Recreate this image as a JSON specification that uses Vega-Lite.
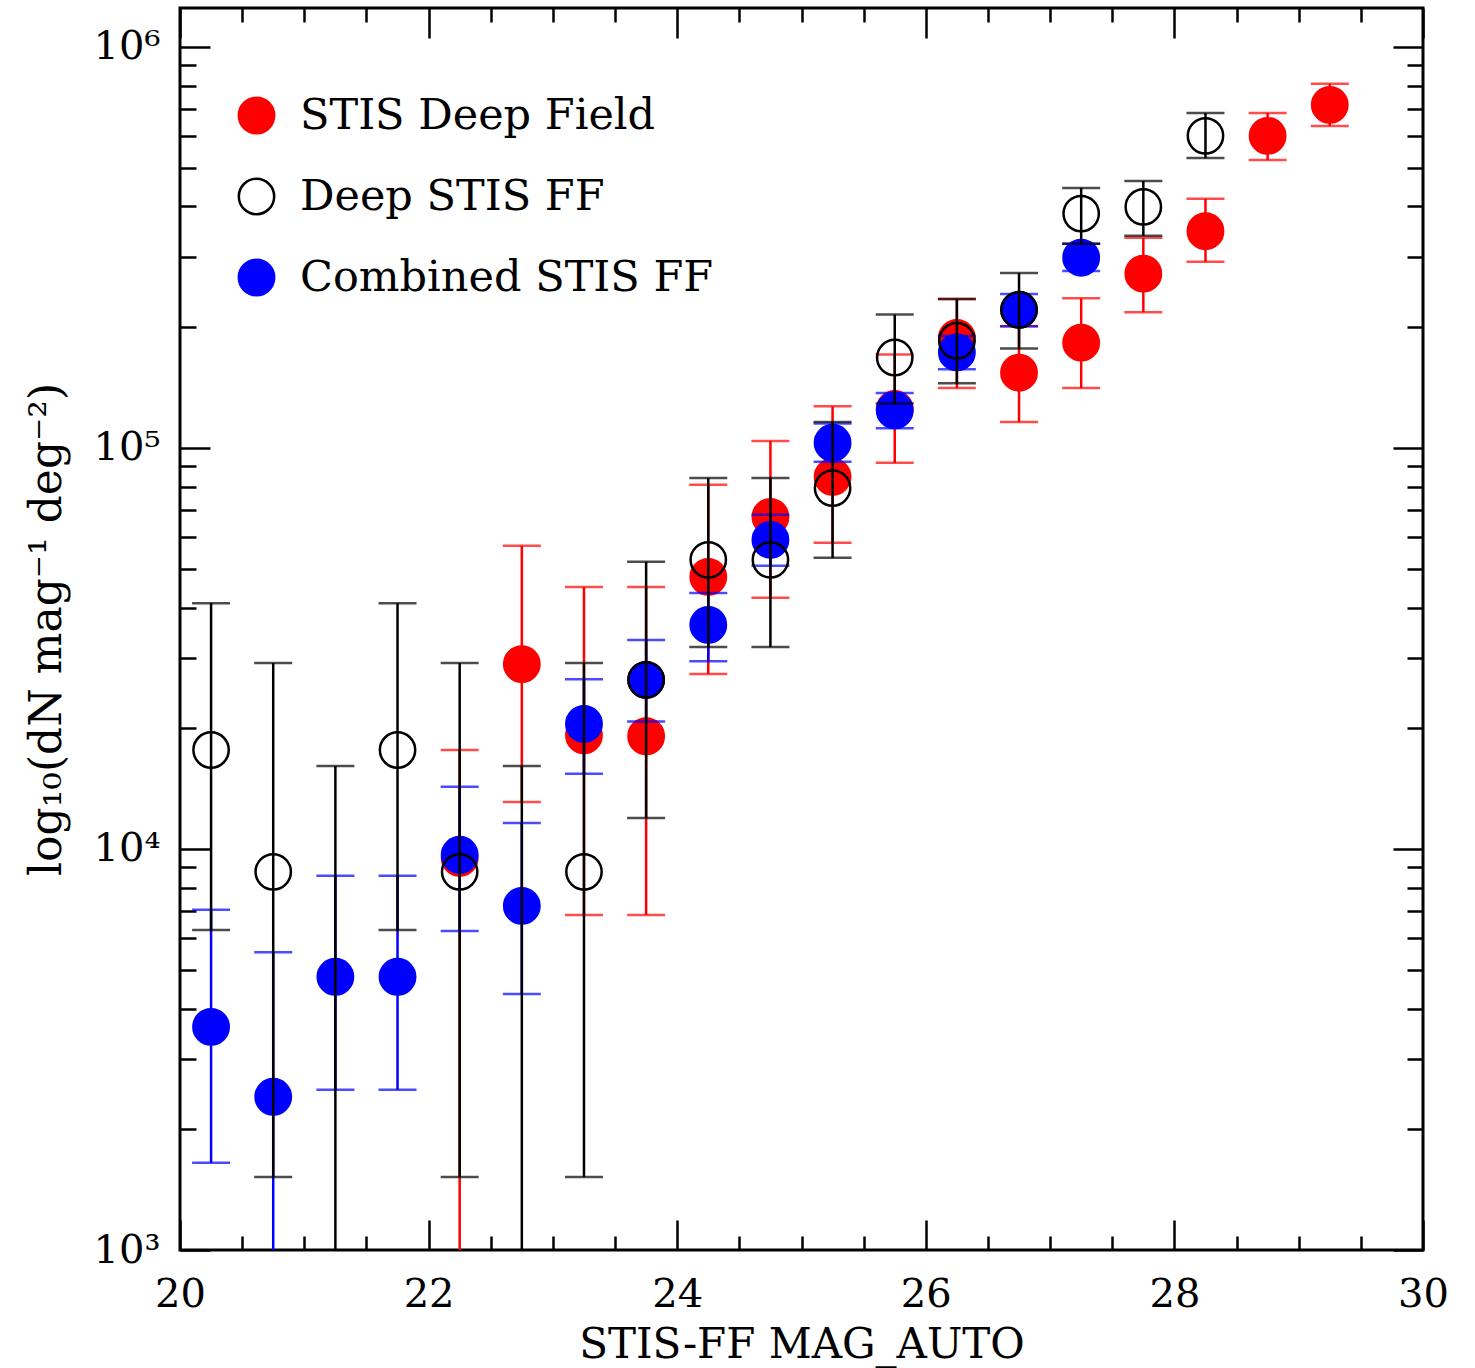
{
  "$schema": "https://vega.github.io/schema/vega-lite/v6.json",
  "width": 1243,
  "height": 1242,
  "autosize": {"type": "none"},
  "padding": {"left": 180, "top": 8, "right": 52, "bottom": 118},
  "background": "white",
  "config": {
    "view": {"stroke": "black", "strokeWidth": 3},
    "axis": {"grid": false, "domain": false, "tickColor": "black", "tickWidth": 2.5, "labelColor": "black", "titleColor": "black", "labelFont": "DejaVu Serif", "titleFont": "DejaVu Serif", "titleFontWeight": "normal", "labelOverlap": false, "labelFlush": false},
    "legend": {"labelFont": "DejaVu Serif", "labelFontSize": 43, "labelColor": "black", "symbolSize": 1250, "symbolStrokeWidth": 2.5, "labelOffset": 22, "rowPadding": 34, "padding": 0, "symbolType": "circle", "labelLimit": 0}
  },
  "datasets": {
    "pts": [
      {"mag": 22.25, "series": "STIS Deep Field", "n": 9500, "lo": 100, "hi": 17650},
      {"mag": 22.75, "series": "STIS Deep Field", "n": 28900, "lo": 13100, "hi": 57000},
      {"mag": 23.25, "series": "STIS Deep Field", "n": 19200, "lo": 6840, "hi": 45000},
      {"mag": 23.75, "series": "STIS Deep Field", "n": 19100, "lo": 6840, "hi": 45000},
      {"mag": 24.25, "series": "STIS Deep Field", "n": 47700, "lo": 27300, "hi": 80900},
      {"mag": 24.75, "series": "STIS Deep Field", "n": 67300, "lo": 42300, "hi": 104000},
      {"mag": 25.25, "series": "STIS Deep Field", "n": 84700, "lo": 58000, "hi": 127000},
      {"mag": 25.75, "series": "STIS Deep Field", "n": 125000, "lo": 91800, "hi": 171000},
      {"mag": 26.25, "series": "STIS Deep Field", "n": 188000, "lo": 141000, "hi": 235000},
      {"mag": 26.75, "series": "STIS Deep Field", "n": 154000, "lo": 116000, "hi": 201000},
      {"mag": 27.25, "series": "STIS Deep Field", "n": 183000, "lo": 141000, "hi": 236000},
      {"mag": 27.75, "series": "STIS Deep Field", "n": 272000, "lo": 218000, "hi": 334000},
      {"mag": 28.25, "series": "STIS Deep Field", "n": 347000, "lo": 291000, "hi": 418000},
      {"mag": 28.75, "series": "STIS Deep Field", "n": 600000, "lo": 522000, "hi": 684000},
      {"mag": 29.25, "series": "STIS Deep Field", "n": 717000, "lo": 635000, "hi": 809000},
      {"mag": 20.25, "series": "Combined STIS FF", "n": 3600, "lo": 1650, "hi": 7050},
      {"mag": 20.75, "series": "Combined STIS FF", "n": 2410, "lo": 100, "hi": 5530},
      {"mag": 21.25, "series": "Combined STIS FF", "n": 4800, "lo": 2510, "hi": 8570},
      {"mag": 21.75, "series": "Combined STIS FF", "n": 4800, "lo": 2510, "hi": 8570},
      {"mag": 22.25, "series": "Combined STIS FF", "n": 9670, "lo": 6240, "hi": 14300},
      {"mag": 22.75, "series": "Combined STIS FF", "n": 7210, "lo": 4350, "hi": 11600},
      {"mag": 23.25, "series": "Combined STIS FF", "n": 20500, "lo": 15400, "hi": 26500},
      {"mag": 23.75, "series": "Combined STIS FF", "n": 26400, "lo": 20800, "hi": 33200},
      {"mag": 24.25, "series": "Combined STIS FF", "n": 36200, "lo": 29400, "hi": 43500},
      {"mag": 24.75, "series": "Combined STIS FF", "n": 59000, "lo": 50800, "hi": 68100},
      {"mag": 25.25, "series": "Combined STIS FF", "n": 103000, "lo": 92300, "hi": 115000},
      {"mag": 25.75, "series": "Combined STIS FF", "n": 124000, "lo": 112000, "hi": 137000},
      {"mag": 26.25, "series": "Combined STIS FF", "n": 173000, "lo": 157000, "hi": 190000},
      {"mag": 26.75, "series": "Combined STIS FF", "n": 221000, "lo": 201000, "hi": 242000},
      {"mag": 27.25, "series": "Combined STIS FF", "n": 298000, "lo": 276000, "hi": 323000},
      {"mag": 20.25, "series": "Deep STIS FF", "n": 17650, "lo": 6280, "hi": 41000},
      {"mag": 20.75, "series": "Deep STIS FF", "n": 8770, "lo": 1520, "hi": 29100},
      {"mag": 21.25, "series": "Deep STIS FF", "n": null, "lo": 100, "hi": 16100},
      {"mag": 21.75, "series": "Deep STIS FF", "n": 17650, "lo": 6280, "hi": 41000},
      {"mag": 22.25, "series": "Deep STIS FF", "n": 8770, "lo": 1520, "hi": 29100},
      {"mag": 22.75, "series": "Deep STIS FF", "n": null, "lo": 100, "hi": 16100},
      {"mag": 23.25, "series": "Deep STIS FF", "n": 8770, "lo": 1520, "hi": 29100},
      {"mag": 23.75, "series": "Deep STIS FF", "n": 26400, "lo": 11940, "hi": 52000},
      {"mag": 24.25, "series": "Deep STIS FF", "n": 52600, "lo": 31900, "hi": 84100},
      {"mag": 24.75, "series": "Deep STIS FF", "n": 52600, "lo": 31900, "hi": 84100},
      {"mag": 25.25, "series": "Deep STIS FF", "n": 79400, "lo": 53200, "hi": 116000},
      {"mag": 25.75, "series": "Deep STIS FF", "n": 168000, "lo": 129000, "hi": 215000},
      {"mag": 26.25, "series": "Deep STIS FF", "n": 185000, "lo": 145000, "hi": 235000},
      {"mag": 26.75, "series": "Deep STIS FF", "n": 221000, "lo": 177000, "hi": 273000},
      {"mag": 27.25, "series": "Deep STIS FF", "n": 384000, "lo": 323000, "hi": 445000},
      {"mag": 27.75, "series": "Deep STIS FF", "n": 399000, "lo": 338000, "hi": 463000},
      {"mag": 28.25, "series": "Deep STIS FF", "n": 600000, "lo": 528000, "hi": 684000}
    ]
  },
  "data": {"name": "pts"},
  "resolve": {"axis": {"x": "independent", "y": "independent"}},
  "layer": [
    {
      "transform": [{"filter": "datum.series === 'STIS Deep Field'"}],
      "mark": {"type": "rule", "color": "#ff0000", "strokeWidth": 2.5, "clip": true},
      "encoding": {
        "x": {"field": "mag", "type": "quantitative", "scale": {"domain": [20, 30], "nice": false, "zero": false},
          "axis": {"orient": "bottom", "values": [20, 20.5, 21, 21.5, 22, 22.5, 23, 23.5, 24, 24.5, 25, 25.5, 26, 26.5, 27, 27.5, 28, 28.5, 29, 29.5, 30],
            "tickSize": {"condition": {"test": "datum.value % 2 === 0", "value": -30}, "value": -14},
            "labelExpr": "datum.value % 2 === 0 ? format(datum.value, 'd') : ''",
            "labelFontSize": 40, "labelPadding": 54, "labelBaseline": "top",
            "title": "STIS-FF MAG_AUTO", "titleFontSize": 42, "titlePadding": -6}},
        "y": {"field": "lo", "type": "quantitative", "scale": {"type": "log", "domain": [1000, 1250000], "nice": false},
          "axis": {"orient": "left", "values": [1000, 2000, 3000, 4000, 5000, 6000, 7000, 8000, 9000, 10000, 20000, 30000, 40000, 50000, 60000, 70000, 80000, 90000, 100000, 200000, 300000, 400000, 500000, 600000, 700000, 800000, 900000, 1000000],
            "tickSize": {"condition": {"test": "indexof([1000, 10000, 100000, 1000000], datum.value) >= 0", "value": -30}, "value": -16},
            "labelExpr": "datum.value == 1000 ? '10³' : datum.value == 10000 ? '10⁴' : datum.value == 100000 ? '10⁵' : datum.value == 1000000 ? '10⁶' : ''",
            "labelFontSize": 40, "labelPadding": 50, "labelBaseline": "middle",
            "title": "log₁₀(dN mag⁻¹ deg⁻²)", "titleFontSize": 44, "titlePadding": 24}},
        "y2": {"field": "hi"}
      }
    },
    {
      "transform": [{"filter": "datum.series === 'STIS Deep Field'"}],
      "mark": {"type": "tick", "orient": "horizontal", "color": "#ff0000", "size": 38, "thickness": 2.5, "clip": true},
      "encoding": {
        "x": {"field": "mag", "type": "quantitative",
          "axis": {"orient": "top", "values": [20, 20.5, 21, 21.5, 22, 22.5, 23, 23.5, 24, 24.5, 25, 25.5, 26, 26.5, 27, 27.5, 28, 28.5, 29, 29.5, 30],
            "tickSize": {"condition": {"test": "datum.value % 2 === 0", "value": -30}, "value": -14},
            "labels": false, "title": null}},
        "y": {"field": "lo", "type": "quantitative",
          "axis": {"orient": "right", "values": [1000, 2000, 3000, 4000, 5000, 6000, 7000, 8000, 9000, 10000, 20000, 30000, 40000, 50000, 60000, 70000, 80000, 90000, 100000, 200000, 300000, 400000, 500000, 600000, 700000, 800000, 900000, 1000000],
            "tickSize": {"condition": {"test": "indexof([1000, 10000, 100000, 1000000], datum.value) >= 0", "value": -30}, "value": -16},
            "labels": false, "title": null}}
      }
    },
    {
      "transform": [{"filter": "datum.series === 'STIS Deep Field'"}],
      "mark": {"type": "tick", "orient": "horizontal", "color": "#ff0000", "size": 38, "thickness": 2.5, "clip": true},
      "encoding": {
        "x": {"field": "mag", "type": "quantitative", "axis": null},
        "y": {"field": "hi", "type": "quantitative", "axis": null}
      }
    },
    {
      "transform": [{"filter": "datum.series === 'STIS Deep Field'"}],
      "mark": {"type": "point", "shape": "circle", "filled": true, "size": 1250, "strokeWidth": 2.5, "opacity": 1, "clip": true},
      "encoding": {
        "x": {"field": "mag", "type": "quantitative", "axis": null},
        "y": {"field": "n", "type": "quantitative", "axis": null},
        "fill": {"field": "series", "type": "nominal", "scale": {"domain": ["STIS Deep Field", "Deep STIS FF", "Combined STIS FF"], "range": ["#ff0000", "rgba(255,255,255,0)", "#0000ff"]}, "legend": {"orient": "none", "legendX": 55, "legendY": 86, "title": null}},
        "stroke": {"field": "series", "type": "nominal", "scale": {"domain": ["STIS Deep Field", "Deep STIS FF", "Combined STIS FF"], "range": ["#ff0000", "#000000", "#0000ff"]}, "legend": {"orient": "none", "legendX": 55, "legendY": 86, "title": null}}
      }
    },
    {
      "transform": [{"filter": "datum.series === 'Combined STIS FF'"}],
      "mark": {"type": "rule", "color": "#0000ff", "strokeWidth": 2.5, "clip": true},
      "encoding": {
        "x": {"field": "mag", "type": "quantitative", "axis": null},
        "y": {"field": "lo", "type": "quantitative", "axis": null},
        "y2": {"field": "hi"}
      }
    },
    {
      "transform": [{"filter": "datum.series === 'Combined STIS FF'"}],
      "mark": {"type": "tick", "orient": "horizontal", "color": "#0000ff", "size": 38, "thickness": 2.5, "clip": true},
      "encoding": {
        "x": {"field": "mag", "type": "quantitative", "axis": null},
        "y": {"field": "lo", "type": "quantitative", "axis": null}
      }
    },
    {
      "transform": [{"filter": "datum.series === 'Combined STIS FF'"}],
      "mark": {"type": "tick", "orient": "horizontal", "color": "#0000ff", "size": 38, "thickness": 2.5, "clip": true},
      "encoding": {
        "x": {"field": "mag", "type": "quantitative", "axis": null},
        "y": {"field": "hi", "type": "quantitative", "axis": null}
      }
    },
    {
      "transform": [{"filter": "datum.series === 'Combined STIS FF'"}],
      "mark": {"type": "point", "shape": "circle", "filled": true, "size": 1250, "strokeWidth": 2.5, "opacity": 1, "clip": true},
      "encoding": {
        "x": {"field": "mag", "type": "quantitative", "axis": null},
        "y": {"field": "n", "type": "quantitative", "axis": null},
        "fill": {"field": "series", "type": "nominal", "legend": {"orient": "none", "legendX": 55, "legendY": 86, "title": null}},
        "stroke": {"field": "series", "type": "nominal", "legend": {"orient": "none", "legendX": 55, "legendY": 86, "title": null}}
      }
    },
    {
      "transform": [{"filter": "datum.series === 'Deep STIS FF'"}],
      "mark": {"type": "rule", "color": "#000000", "strokeWidth": 2.5, "clip": true},
      "encoding": {
        "x": {"field": "mag", "type": "quantitative", "axis": null},
        "y": {"field": "lo", "type": "quantitative", "axis": null},
        "y2": {"field": "hi"}
      }
    },
    {
      "transform": [{"filter": "datum.series === 'Deep STIS FF'"}],
      "mark": {"type": "tick", "orient": "horizontal", "color": "#000000", "size": 38, "thickness": 2.5, "clip": true},
      "encoding": {
        "x": {"field": "mag", "type": "quantitative", "axis": null},
        "y": {"field": "lo", "type": "quantitative", "axis": null}
      }
    },
    {
      "transform": [{"filter": "datum.series === 'Deep STIS FF'"}],
      "mark": {"type": "tick", "orient": "horizontal", "color": "#000000", "size": 38, "thickness": 2.5, "clip": true},
      "encoding": {
        "x": {"field": "mag", "type": "quantitative", "axis": null},
        "y": {"field": "hi", "type": "quantitative", "axis": null}
      }
    },
    {
      "transform": [{"filter": "datum.series === 'Deep STIS FF' && datum.n != null"}],
      "mark": {"type": "point", "shape": "circle", "filled": true, "size": 1250, "strokeWidth": 2.5, "opacity": 1, "clip": true},
      "encoding": {
        "x": {"field": "mag", "type": "quantitative", "axis": null},
        "y": {"field": "n", "type": "quantitative", "axis": null},
        "fill": {"field": "series", "type": "nominal", "legend": {"orient": "none", "legendX": 55, "legendY": 86, "title": null}},
        "stroke": {"field": "series", "type": "nominal", "legend": {"orient": "none", "legendX": 55, "legendY": 86, "title": null}}
      }
    }
  ]
}
